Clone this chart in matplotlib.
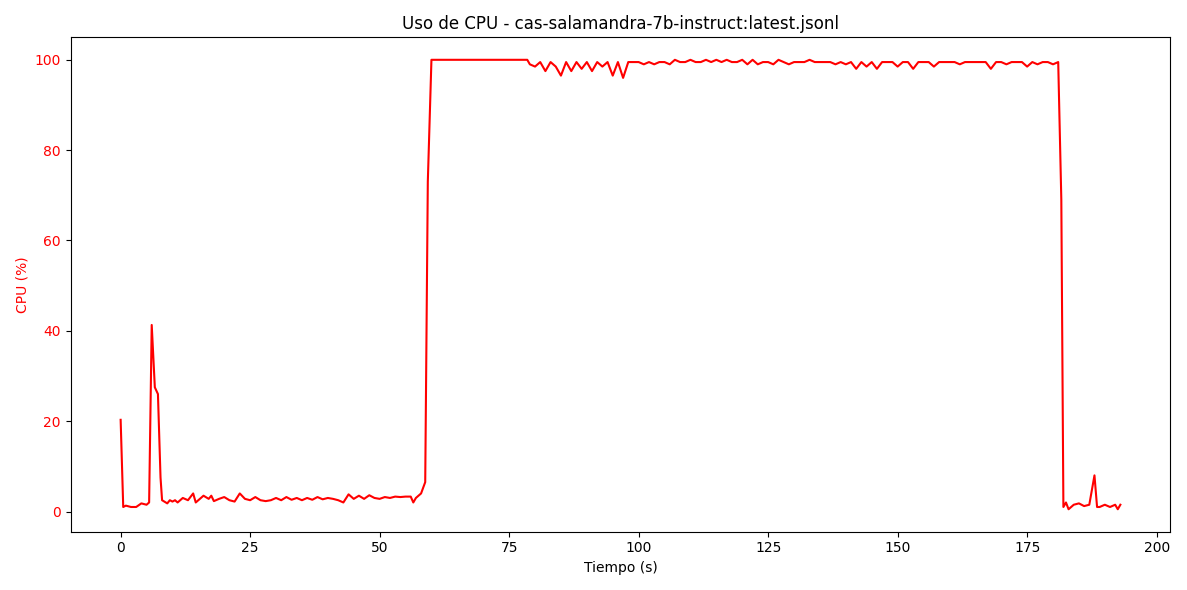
import matplotlib
matplotlib.use('Agg')
import matplotlib.pyplot as plt

# arranque (0-18 s)
t_inicio = [0, 0.5, 1, 2, 3, 4, 5, 5.5, 6, 6.6, 7.2, 7.7, 8, 9, 9.5, 10, 10.5, 11, 12, 13, 14,
            14.5, 15, 16, 17, 17.5, 18]
cpu_inicio = [20.3, 1.0, 1.3, 1.0, 1.0, 1.8, 1.5, 2.0, 41.3, 27.5, 26.0, 7.5, 2.5, 1.8, 2.5, 2.2,
              2.5, 2.0, 3.0, 2.5, 4.0, 2.0, 2.5, 3.5, 2.8, 3.5, 2.3]

# reposo (19-56 s)
t_reposo = list(range(19, 57))
cpu_reposo = [2.8, 3.2, 2.5, 2.2, 4.0, 2.8, 2.5, 3.2, 2.5, 2.3,
              2.5, 3.0, 2.5, 3.2, 2.6, 3.0, 2.5, 3.0, 2.6, 3.2,
              2.7, 3.0, 2.8, 2.5, 2.0, 3.8, 2.8, 3.5, 2.8, 3.6,
              3.0, 2.8, 3.2, 3.0, 3.3, 3.2, 3.3, 3.3]

# subida y saturacion
t_subida = [56.5, 57, 58, 58.8, 59.3, 60, 78.5]
cpu_subida = [2.0, 3.0, 4.0, 6.5, 73.0, 100, 100]

# carga (79-181 s)
t_carga = list(range(79, 182))
cpu_carga = [99, 98.5, 99.5, 97.5, 99.5, 98.5, 96.5, 99.5, 97.5, 99.5,
             98, 99.5, 97.5, 99.5, 98.5, 99.5, 96.5, 99.5, 96, 99.5,
             99.5, 99.5, 99, 99.5, 99, 99.5, 99.5, 99, 100, 99.5,
             99.5, 100, 99.5, 99.5, 100, 99.5, 100, 99.5, 100, 99.5,
             99.5, 100, 99, 100, 99, 99.5, 99.5, 99, 100, 99.5,
             99, 99.5, 99.5, 99.5, 100, 99.5, 99.5, 99.5, 99.5, 99,
             99.5, 99, 99.5, 98, 99.5, 98.5, 99.5, 98, 99.5, 99.5,
             99.5, 98.5, 99.5, 99.5, 98, 99.5, 99.5, 99.5, 98.5, 99.5,
             99.5, 99.5, 99.5, 99, 99.5, 99.5, 99.5, 99.5, 99.5, 98,
             99.5, 99.5, 99, 99.5, 99.5, 99.5, 98.5, 99.5, 99, 99.5,
             99.5, 99, 99.5]

# final
t_final = [181.6, 182, 182.5, 183, 184, 185, 186, 187, 188, 188.5, 189, 190, 191, 192, 192.5, 193]
cpu_final = [69.0, 1.0, 2.0, 0.5, 1.5, 1.8, 1.2, 1.5, 8.0, 1.0, 1.0, 1.5, 1.0, 1.5, 0.5, 1.5]

tiempo = t_inicio + t_reposo + t_subida + t_carga + t_final
cpu = cpu_inicio + cpu_reposo + cpu_subida + cpu_carga + cpu_final

fig = plt.figure(figsize=(11.87, 5.9), dpi=100)
ax = fig.gca()
ax.plot(tiempo, cpu, color='red', linewidth=1.5)
ax.set_title('Uso de CPU - cas-salamandra-7b-instruct:latest.jsonl')
ax.set_xlabel('Tiempo (s)')
ax.set_ylabel('CPU (%)', color='red')
ax.tick_params(axis='y', labelcolor='red')
fig.tight_layout()
fig.savefig('out.png')
